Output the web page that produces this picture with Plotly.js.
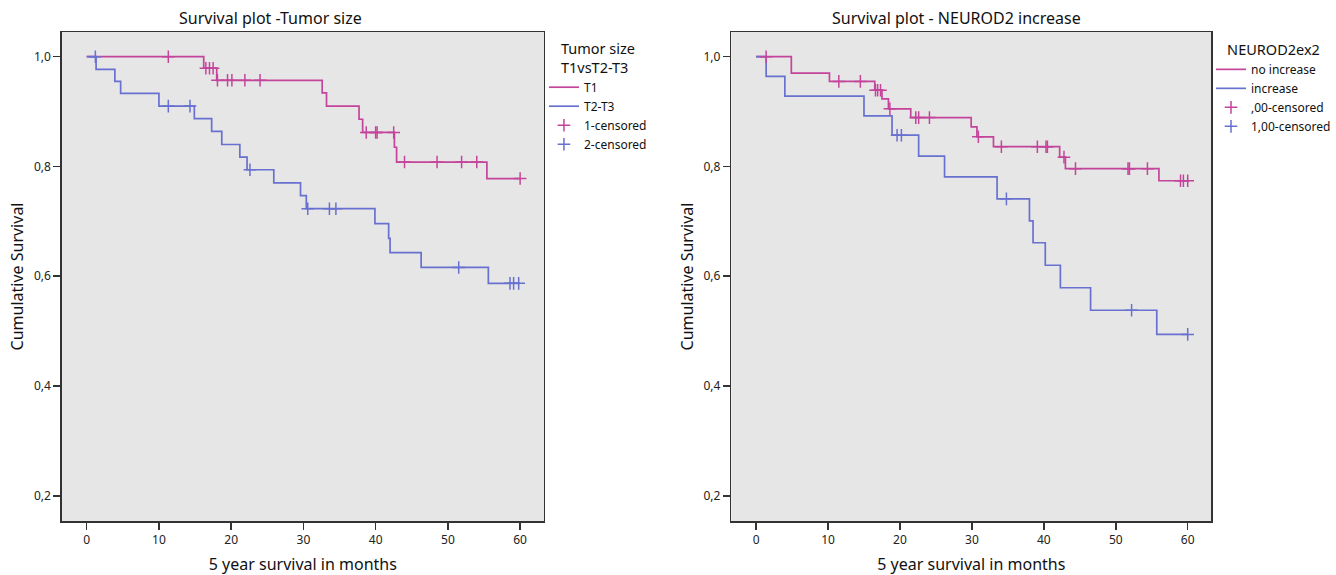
<!DOCTYPE html>
<html>
<head>
<meta charset="utf-8">
<script src="https://cdn.plot.ly/plotly-3.0.1.min.js"></script>
<style>html,body{margin:0;padding:0;background:#fff;}#chart{width:1336px;height:575px;}</style>
</head>
<body>
<div id="chart"></div>
<script>
// ---- Left panel: Tumor size ----
var t1Times = [16.2, 18.0, 32.6, 33.2, 37.7, 38.2, 42.6, 42.9, 55.4];
var t1Surv  = [0.979, 0.957, 0.934, 0.910, 0.886, 0.862, 0.835, 0.808, 0.778];
var t1Censor = [11.3, 16.5, 17.0, 17.5, 18.1, 19.5, 20.1, 21.9, 24.0, 38.7, 40.0, 40.2, 42.5, 44.0, 48.5, 51.9, 54.0, 60.0];

var t23Times = [1.3, 3.9, 4.7, 10.0, 14.9, 17.3, 18.7, 21.2, 22.2, 25.9, 29.6, 30.4, 39.9, 41.8, 42.0, 46.3, 55.6];
var t23Surv  = [0.977, 0.955, 0.933, 0.910, 0.887, 0.864, 0.840, 0.817, 0.794, 0.770, 0.747, 0.723, 0.696, 0.669, 0.643, 0.616, 0.587];
var t23Censor = [1.2, 11.3, 14.3, 22.6, 30.6, 33.6, 34.5, 51.5, 58.6, 59.1, 59.8];

// ---- Right panel: NEUROD2 increase ----
var noIncTimes = [4.9, 10.2, 16.5, 17.5, 18.4, 21.5, 29.9, 30.7, 33.0, 42.2, 43.0, 56.0];
var noIncSurv  = [0.970, 0.955, 0.939, 0.923, 0.905, 0.889, 0.872, 0.854, 0.836, 0.817, 0.796, 0.774];
var noIncCensor = [1.4, 11.5, 14.5, 16.6, 16.9, 17.3, 18.6, 22.2, 22.6, 24.1, 30.9, 34.1, 39.1, 40.3, 40.5, 42.8, 44.4, 51.7, 51.9, 54.4, 59.0, 59.4, 60.0];

var incTimes = [1.4, 4.0, 15.0, 18.9, 22.6, 26.2, 33.5, 38.0, 38.5, 40.2, 42.3, 46.5, 55.7];
var incSurv  = [0.964, 0.928, 0.892, 0.857, 0.819, 0.781, 0.741, 0.701, 0.661, 0.620, 0.579, 0.538, 0.494];
var incCensor = [19.6, 20.2, 34.8, 52.2, 60.0];

var endTime = 60;
var xTickVals = [0, 10, 20, 30, 40, 50, 60];
var yTickVals = [0.2, 0.4, 0.6, 0.8, 1.0];

var PINK = '#c4449b';
var BLUE = '#6870d0';
var FONT = 'Noto Sans, Open Sans, sans-serif';

function stepXY(times, surv) {
  var x = [0].concat(times).concat([endTime]);
  var y = [1].concat(surv).concat([surv[surv.length - 1]]);
  return {x: x, y: y};
}
function survAt(times, surv, t) {
  var s = 1;
  for (var i = 0; i < times.length; i++) { if (times[i] <= t) s = surv[i]; }
  return s;
}
function curve(times, surv, name, color, xa, ya, leg) {
  var s = stepXY(times, surv);
  return {x: s.x, y: s.y, type: 'scatter', mode: 'lines', line: {shape: 'hv', color: color, width: 1.7},
          name: name, xaxis: xa, yaxis: ya, legend: leg, hoverinfo: 'x+y'};
}
function censor(ctimes, times, surv, name, color, xa, ya, leg) {
  return {x: ctimes, y: ctimes.map(function (t) { return survAt(times, surv, t); }),
          type: 'scatter', mode: 'markers', name: name, xaxis: xa, yaxis: ya, legend: leg,
          marker: {symbol: 'cross-thin-open', size: 9, color: color, line: {color: color, width: 1.5}}};
}

var data = [
  curve(t1Times, t1Surv, 'T1', PINK, 'x', 'y', 'legend'),
  curve(t23Times, t23Surv, 'T2-T3', BLUE, 'x', 'y', 'legend'),
  censor(t1Censor, t1Times, t1Surv, '1-censored', PINK, 'x', 'y', 'legend'),
  censor(t23Censor, t23Times, t23Surv, '2-censored', BLUE, 'x', 'y', 'legend'),
  curve(noIncTimes, noIncSurv, 'no increase', PINK, 'x2', 'y2', 'legend2'),
  curve(incTimes, incSurv, 'increase', BLUE, 'x2', 'y2', 'legend2'),
  censor(noIncCensor, noIncTimes, noIncSurv, ',00-censored', PINK, 'x2', 'y2', 'legend2'),
  censor(incCensor, incTimes, incSurv, '1,00-censored', BLUE, 'x2', 'y2', 'legend2')
];

function xAxis(domain, anchor) {
  return {domain: domain, anchor: anchor, range: [-3.45, 63.3], tickvals: xTickVals, ticks: 'outside', ticklen: 7,
          tickwidth: 1.5, tickcolor: '#333', showline: true, mirror: true, linecolor: '#333', linewidth: 1.5,
          showgrid: false, zeroline: false, tickfont: {family: FONT, size: 12, color: '#222'},
          title: {text: '5 year survival in months', font: {family: FONT, size: 16, color: '#111'}, standoff: 12}};
}
function yAxis(domain, anchor) {
  return {domain: domain, anchor: anchor, range: [0.154, 1.045], tickvals: yTickVals, tickformat: '.1f', ticks: 'outside', ticklen: 7,
          tickwidth: 1.5, tickcolor: '#333', showline: true, mirror: true, linecolor: '#333', linewidth: 1.5,
          showgrid: false, zeroline: false, tickfont: {family: FONT, size: 12, color: '#222'},
          title: {text: 'Cumulative Survival', font: {family: FONT, size: 16, color: '#111'}, standoff: 6}};
}

var yDom = [1 - 521 / 575, 1 - 32 / 575];
var layout = {
  width: 1336, height: 575,
  margin: {l: 0, r: 0, t: 0, b: 0},
  paper_bgcolor: '#ffffff',
  plot_bgcolor: '#e6e6e6',
  separators: ',.',
  font: {family: FONT, color: '#111'},
  xaxis: xAxis([62 / 1336, 546 / 1336], 'y'),
  yaxis: yAxis(yDom, 'x'),
  xaxis2: xAxis([734 / 1336, 1216 / 1336], 'y2'),
  yaxis2: yAxis(yDom, 'x2'),
  showlegend: true,
  legend: {x: 546 / 1336, xanchor: 'left', y: 1 - 35 / 575, yanchor: 'top', bgcolor: 'rgba(0,0,0,0)',
           font: {family: FONT, size: 12, color: '#111'},
           title: {text: 'Tumor size<br>T1vsT2-T3', side: 'top center', font: {family: FONT, size: 14.5, color: '#111'}}},
  legend2: {x: 1216 / 1336, xanchor: 'left', y: 1 - 36 / 575, yanchor: 'top', bgcolor: 'rgba(0,0,0,0)',
            font: {family: FONT, size: 12, color: '#111'},
            title: {text: 'NEUROD2ex2', side: 'top center', font: {family: FONT, size: 14.5, color: '#111'}}},
  annotations: [
    {text: 'Survival plot -Tumor size', xref: 'paper', yref: 'paper', x: 272 / 1336, y: 1 - 18 / 575,
     xanchor: 'center', yanchor: 'middle', showarrow: false, font: {family: FONT, size: 16, color: '#111'}},
    {text: 'Survival plot - NEUROD2 increase', xref: 'paper', yref: 'paper', x: 960 / 1336, y: 1 - 18 / 575,
     xanchor: 'center', yanchor: 'middle', showarrow: false, font: {family: FONT, size: 16, color: '#111'}}
  ]
};

Plotly.newPlot('chart', data, layout, {displayModeBar: false, staticPlot: true});
</script>
</body>
</html>
